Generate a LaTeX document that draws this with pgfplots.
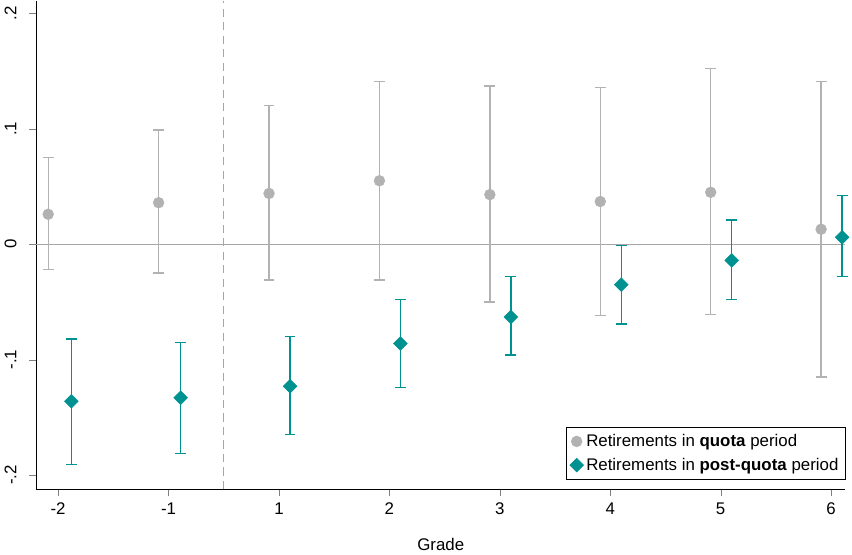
\documentclass[border=0pt]{standalone}
\usepackage{fontspec}
\setmainfont{Liberation Sans}
\usepackage{pgfplots}
\pgfplotsset{compat=1.18}
\definecolor{gr}{RGB}{178,178,178}
\definecolor{tl}{RGB}{0,145,145}
\begin{document}
\begin{tikzpicture}
\begin{axis}[scale only axis, width=600pt, height=362pt,
 xmin=-0.2, xmax=7.13, ymin=-0.212, ymax=0.211,
 axis x line*=bottom, axis y line*=left,
 xtick={0,1,2,3,4,5,6,7}, xticklabels={-2,-1,1,2,3,4,5,6},
 ytick={-0.2,-0.1,0,0.1,0.2}, yticklabels={-.2,-.1,0,.1,.2},
 yticklabel style={rotate=90, yshift=6pt},
 /pgf/number format/assume math mode=true,
 tick label style={font=\fontsize{12.5}{14}\selectfont},
 xticklabel style={yshift=-2pt},
 xlabel={Grade}, xlabel style={yshift=-10pt}, label style={font=\fontsize{12.5}{14}\selectfont},
 tick align=outside, major tick length=5pt,
 clip=false,
 legend style={at={(1,0.02)}, anchor=south east, draw=black, font=\fontsize{12.5}{15}\selectfont, legend cell align=left, row sep=3pt, inner sep=3pt},
 error bars/error bar style={line width=1pt},
 error bars/error mark options={rotate=90, mark size=4pt, line width=1pt},
]
\draw[gray!70, line width=1pt] (axis cs:-0.2,0) -- (axis cs:7.13,0);
\draw[gray!70, dashed, dash pattern=on 6pt off 4pt, line width=1pt] (axis cs:1.5,-0.212) -- (axis cs:1.5,0.211);
\addplot[only marks, mark=*, mark size=4pt, color=gr, mark options={fill=gr},
 error bars/.cd, y dir=both, y explicit] coordinates {
 (-0.09,0.026) +=(0,0.049) -=(0,0.048)
 (0.91,0.036) +=(0,0.063) -=(0,0.061)
 (1.91,0.044) +=(0,0.076) -=(0,0.075)
 (2.91,0.055) +=(0,0.086) -=(0,0.086)
 (3.91,0.043) +=(0,0.094) -=(0,0.093)
 (4.91,0.037) +=(0,0.099) -=(0,0.099)
 (5.91,0.045) +=(0,0.107) -=(0,0.106)
 (6.91,0.013) +=(0,0.128) -=(0,0.128)
};
\addlegendentry{Retirements in \textbf{quota} period}
\addplot[only marks, mark=square*, mark size=3.6pt, color=tl, mark options={fill=tl, rotate=45},
 error bars/.cd, y dir=both, y explicit] coordinates {
 (0.12,-0.136) +=(0,0.054) -=(0,0.055)
 (1.11,-0.133) +=(0,0.048) -=(0,0.048)
 (2.1,-0.123) +=(0,0.043) -=(0,0.042)
 (3.1,-0.086) +=(0,0.038) -=(0,0.038)
 (4.1,-0.063) +=(0,0.035) -=(0,0.033)
 (5.1,-0.035) +=(0,0.034) -=(0,0.034)
 (6.1,-0.014) +=(0,0.035) -=(0,0.034)
 (7.1,0.006) +=(0,0.036) -=(0,0.034)
};
\addlegendentry{Retirements in \textbf{post-quota} period}
\end{axis}
\end{tikzpicture}
\end{document}
